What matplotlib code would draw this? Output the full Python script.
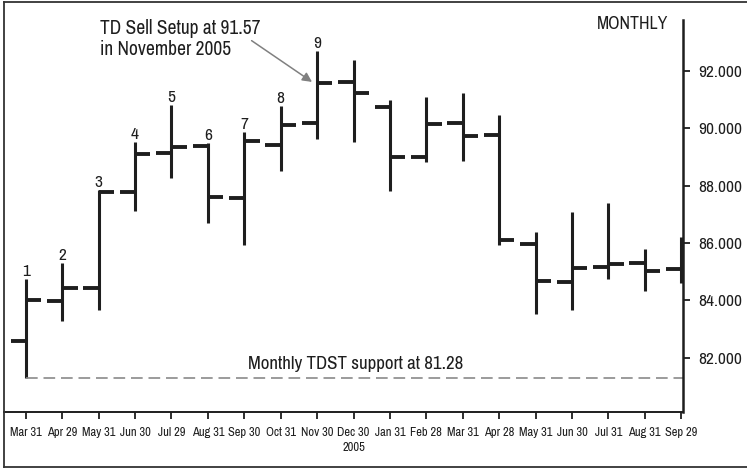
import numpy as np
import matplotlib
matplotlib.use('Agg')
import matplotlib.pyplot as plt
from matplotlib import font_manager
from matplotlib.lines import Line2D

# the reference uses a narrow grotesque; use a condensed face when one exists
faces = font_manager.fontManager.ttflist
narrow = [f.name for f in faces if 'Narrow' in f.name or 'Condensed' in f.name]
has_cond = any(f.name == 'DejaVu Sans' and f.stretch == 'condensed' for f in faces)
if narrow:
    plt.rcParams['font.family'] = [narrow[0], 'DejaVu Sans']
    scale = 1.0
elif has_cond:
    plt.rcParams['font.family'] = ['DejaVu Sans']
    plt.rcParams['font.stretch'] = 'condensed'
    scale = 0.85
else:
    plt.rcParams['font.family'] = ['DejaVu Sans']
    scale = 0.75

# monthly bars, Mar 2005 - Sep 2006
labels = ['Mar 31', 'Apr 29', 'May 31', 'Jun 30', 'Jul 29', 'Aug 31', 'Sep 30',
          'Oct 31', 'Nov 30', 'Dec 30\n2005', 'Jan 31', 'Feb 28', 'Mar 31',
          'Apr 28', 'May 31', 'Jun 30', 'Jul 31', 'Aug 31', 'Sep 29']
opens = [82.58, 83.99, 84.44, 87.79, 89.13, 89.38, 87.58, 89.42, 90.20, 91.63,
         90.75, 89.01, 90.18, 89.77, 85.97, 84.63, 85.17, 85.29, 85.08]
highs = [84.73, 85.31, 87.85, 89.53, 90.81, 89.48, 89.88, 90.78, 92.71, 92.38,
         90.99, 91.10, 91.22, 90.47, 86.39, 87.09, 87.39, 85.78, 86.22]
lows = [81.28, 83.29, 83.66, 87.13, 88.26, 86.71, 85.93, 88.51, 89.62, 89.51,
        87.81, 88.84, 88.86, 85.93, 83.52, 83.66, 84.73, 84.33, 84.62]
closes = [84.01, 84.42, 87.77, 89.10, 89.36, 87.62, 89.56, 90.11, 91.57, 91.24,
          88.99, 90.15, 89.74, 86.11, 84.68, 85.12, 85.26, 85.02, 85.95]
setup_counts = ['1', '2', '3', '4', '5', '6', '7', '8', '9']
tdst_support = 81.28
yticks = [82, 84, 86, 88, 90, 92]

x = np.arange(len(labels))
w = 0.42
ink = '#1e1e1e'

fig = plt.figure(figsize=(7.47, 4.69), dpi=100)
ax = fig.add_axes([0.0054, 0.1222, 0.9089, 0.8352])

ax.vlines(x, lows, highs, color=ink, lw=2.2, capstyle='butt')
ax.hlines(opens, x - w, x, color=ink, lw=2.8, capstyle='butt')
ax.hlines(closes, x, x + w, color=ink, lw=2.8, capstyle='butt')

# TD setup count above the highs
for i, s in enumerate(setup_counts):
    ax.annotate(s, (x[i], highs[i]), xytext=(0, 0), textcoords='offset points',
                ha='center', va='bottom', fontsize=12.5 * scale, color=ink)

# TDST support line
ax.hlines(tdst_support, x[0], x[-1] + 1, color='#8a8a8a', lw=1.2,
          linestyles=(0, (7, 3.5)))
ax.text(9.06, 81.80, 'Monthly TDST support at 81.28', ha='center', va='center',
        fontsize=13.6 * scale, color=ink)

# sell setup callout
ax.annotate('', xy=(7.86, 91.62), xytext=(6.2, 93.06),
            arrowprops=dict(arrowstyle='-|>', color='#808080', lw=1.1,
                            mutation_scale=14, shrinkA=0, shrinkB=0),
            annotation_clip=False)
ax.text(2.03, 93.81, 'TD Sell Setup at 91.57\nin November 2005', ha='left',
        va='top', fontsize=14 * scale, color=ink, linespacing=1.1, clip_on=False)
ax.text(17.64, 93.63, 'MONTHLY', ha='right', va='center', fontsize=12.8 * scale,
        color=ink)

ax.set_xlim(-0.6, 18.05)
ax.set_ylim(80.12, 93.78)
ax.set_xticks(x)
ax.set_xticklabels(labels, fontsize=9 * scale, color=ink, linespacing=1.45)
ax.yaxis.tick_right()
ax.set_yticks(yticks)
ax.set_yticklabels(['%.3f' % v for v in yticks], fontsize=12.5 * scale, color=ink)
ax.tick_params(axis='x', length=5, width=1.3, color=ink, pad=6)
ax.tick_params(axis='y', length=5, width=1.3, color=ink, pad=6)

for side in ['top', 'left']:
    ax.spines[side].set_visible(False)
ax.spines['right'].set_linewidth(1.8)
ax.spines['bottom'].set_linewidth(1.4)
ax.spines['right'].set_color(ink)
ax.spines['bottom'].set_color(ink)

# outer frame (left, top, bottom)
for xs, ys in [([0.006, 0.006], [0.004, 0.996]), ([0.006, 1], [0.996, 0.996]),
               ([0.006, 1], [0.004, 0.004])]:
    fig.add_artist(Line2D(xs, ys, color='#333333', lw=1.3))

fig.savefig('out.png', dpi=100)
